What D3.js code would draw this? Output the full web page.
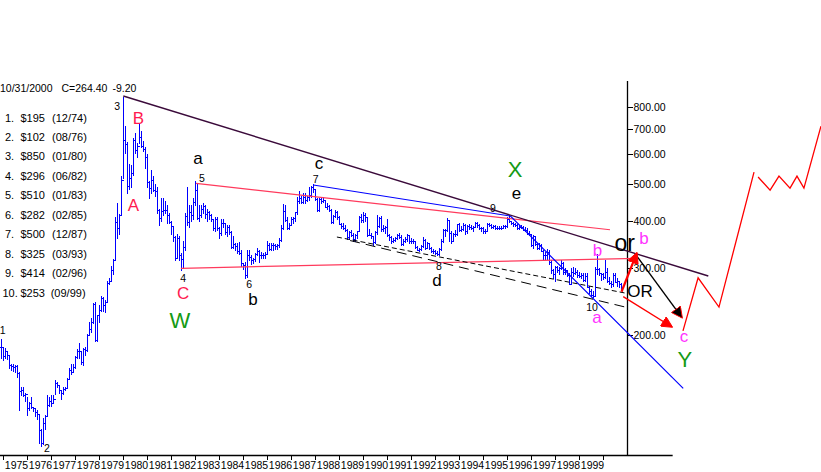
<!DOCTYPE html>
<html>
<head>
<meta charset="utf-8">
<script src="https://cdn.jsdelivr.net/npm/d3@7"></script>
<style>
body { margin: 0; background: #fff; }
svg { display: block; font-family: "Liberation Sans", Arial, sans-serif; }
</style>
</head>
<body>
<div class="contents"></div>
<script>
// monthly gold bars, first bar = Dec 1974
var firstMonth = 1974 * 12 + 11;

var highs = [195,
  186,185,182,177,168,168,167,167,160,146,146,141,
  137,133,137,129,128,127,124,113,121,123,139,137,
  139,139,152,150,148,143,146,146,154,164,168,168,
  176,184,190,182,185,186,201,216,222,243,244,226,
  240,254,252,248,278,283,305,318,410,447,417,524,
  850,710,645,565,560,660,680,640,725,690,650,625,
  600,510,545,525,500,490,430,460,460,450,440,420,
  400,385,365,370,365,330,355,420,490,440,440,460,
  510,500,440,440,445,440,430,425,418,405,410,410,
  385,405,405,395,390,390,375,365,350,350,352,335,
  310,312,335,335,325,320,330,340,335,332,330,332,
  355,350,350,350,347,347,360,390,442,440,410,395,
  410,410,422,462,480,465,475,475,465,490,495,500,
  485,460,460,460,462,455,445,440,430,415,428,425,
  412,395,395,390,380,375,378,372,370,377,412,418,
  423,420,410,380,372,365,375,415,410,412,390,388,
  405,370,365,360,362,370,372,366,358,362,370,368,
  360,358,355,343,340,345,362,358,352,350,342,338,
  335,334,340,358,380,380,407,400,375,372,378,392,
  395,388,394,392,390,393,390,388,398,397,392,386,
  385,380,395,396,393,390,390,388,387,387,390,390,
  410,415,400,398,395,392,390,390,388,385,384,375,
  370,366,365,350,350,348,335,332,337,335,315,298,
  305,305,303,315,312,300,297,291,300,302,300,297,
  293,291,291,291,291,270,264,262,302,327,300,292,
  292,315,300,285,278,292,292,282,278,275];

var lows = [174,
  172,174,173,164,162,161,160,155,127,139,138,134,
  123,127,128,126,122,120,104,102,103,113,122,130,
  130,132,140,146,141,136,140,143,145,154,158,160,
  164,174,174,168,167,177,182,200,204,215,193,193,
  217,232,231,230,245,272,278,290,315,360,370,416,
  520,605,474,485,490,530,605,590,640,625,610,550,
  490,460,475,480,465,420,390,400,415,420,395,395,
  370,355,315,320,315,296,300,335,390,385,400,405,
  440,405,400,410,420,408,400,405,400,378,375,378,
  360,368,385,370,365,370,340,340,335,330,328,305,
  298,282,285,315,308,310,313,325,312,320,320,320,
  327,335,335,335,338,337,342,355,380,400,380,380,
  390,395,400,418,445,445,445,445,450,455,463,478,
  455,425,425,445,448,435,430,425,395,395,410,405,
  392,382,380,377,358,358,365,355,355,360,375,398,
  398,400,365,366,360,345,350,370,385,375,375,372,
  365,356,350,352,354,358,360,345,345,352,355,350,
  350,350,340,336,333,336,342,338,340,338,332,330,
  328,326,326,335,352,365,375,355,350,355,365,368,
  375,375,378,370,372,380,380,377,385,385,380,375,
  372,372,375,387,382,382,380,380,381,381,382,383,
  385,398,392,388,387,380,380,382,378,377,370,366,
  343,340,346,337,338,334,318,318,318,308,292,283,
  278,293,289,298,290,289,287,272,273,287,290,285,
  285,283,278,278,268,258,253,252,253,290,288,279,
  281,282,276,272,268,270,276,270,268,263];

var closes = [186,
  176,181,177,167,166,165,166,159,142,143,139,140,
  128,132,129,128,125,124,112,104,117,122,131,134,
  132,136,149,148,143,141,144,145,153,162,160,165,
  175,182,181,170,184,183,200,208,217,242,194,226,
  233,251,240,245,275,278,296,315,397,382,415,512,
  653,637,494,518,535,653,614,631,666,629,619,590,
  506,489,513,482,479,426,406,425,428,427,414,397,
  387,362,320,361,325,317,342,411,397,423,414,448,
  481,408,414,429,437,416,422,414,405,382,405,382,
  371,394,394,373,385,374,342,348,343,333,329,309,
  306,288,325,321,316,317,327,333,326,325,325,327,
  346,338,345,345,343,345,357,384,424,402,384,391,
  405,406,421,452,460,448,463,453,461,467,492,484,
  458,426,456,450,455,436,437,428,397,412,423,410,
  393,388,384,378,362,374,368,359,367,376,410,401,
  415,410,368,368,364,352,374,387,408,380,384,386,
  367,363,355,357,361,368,363,348,355,358,366,353,
  354,353,341,336,337,343,357,340,349,339,334,333,
  330,327,337,354,378,378,401,371,355,369,370,392,
  378,381,391,376,387,386,384,385,394,389,384,383,
  375,376,392,389,385,387,383,383,383,383,387,387,
  405,400,396,392,390,382,385,386,379,379,371,369,
  345,364,348,340,345,334,326,325,332,311,296,290,
  302,297,301,310,293,296,288,273,294,292,294,288,
  287,288,280,286,268,261,255,254,299,299,292,290,
  284,293,278,274,273,288,276,277,273,264];

var yearTicks = d3.range(1975, 2001);
var priceTicks = [200, 300, 400, 500, 600, 700, 800];
var headerText = ["10/31/2000", "C=264.40", "-9.20"];

// wave pivots list (top left)
var waveNum = ["1.", "2.", "3.", "4.", "5.", "6.", "7.", "8.", "9.", "10."];
var wavePrice = [195, 102, 850, 296, 510, 282, 500, 325, 414, 253];
var waveDate = ["12/74", "08/76", "01/80", "06/82", "01/83", "02/85", "12/87", "03/93", "02/96", "09/99"];

// small pivot numbers on the chart
var pivotYear = [1974.97, 1976.82, 1979.74, 1982.49, 1983.28, 1985.24, 1988.02, 1993.15, 1995.40, 1999.53];
var pivotPrice = [206, 100.7, 803, 282.7, 518.8, 272.6, 514, 304, 432.4, 237];

// wave letters
var letterText = ["A", "B", "C", "W", "a", "b", "c", "d", "e", "X", "b", "a", "or", "b", "OR", "c", "Y"];
var letterKind = ["red", "red", "red", "green", "black", "black", "black", "black", "black", "green",
                  "magenta", "magenta", "big", "magenta", "mid", "magenta", "green"];
var letterYear = [1980.42, 1980.63, 1982.49, 1982.36, 1983.11, 1985.40, 1988.15, 1993.07, 1996.38, 1996.32,
                  1999.76, 1999.74, 2000.89, 2001.70, 2001.53, 2003.36, 2003.40];
var letterPrice = [440.4, 746.8, 258.1, 219.1, 578.8, 248.9, 562, 280, 469.4, 548,
                   335, 221, 345.4, 360.4, 261.2, 196.4, 172.9];

// trend lines, [year, price]
var upperTrend = [[1980.0, 853.6], [2004.375, 286.2]];
var pinkUpper = [[1983.03, 502.4], [2000.28, 378.9]];
var pinkLower = [[1982.40, 299.9], [2001.40, 318.6]];
var blueTrend = [[1987.92, 497.2], [1996.13, 411.8], [2003.33, 144.7]];
var dashShort = [[1988.90, 362.6], [2000.90, 258.1]];
var dashLong = [[1989.45, 354.9], [2000.90, 237.1]];

// arrows
var arrowUp = [[2000.76, 260.1], [2001.39, 328.4]];
var arrowBlack = [[2001.36, 325.3], [2003.27, 222.7]];
var arrowDown = [[2000.83, 252.4], [2002.85, 210.3]];

// projected path
var projA = [[2003.32, 205], [2003.95, 283], [2004.82, 237], [2006.28, 538]];
var projB = [[2006.45, 522], [2006.95, 482], [2007.32, 525], [2007.78, 488],
             [2008.07, 525], [2008.36, 488], [2009.07, 711]];

var width = 821, height = 472;

var svg = d3.select(".contents").append("svg")
    .attr("width", width)
    .attr("height", height);

var x = d3.scaleLinear().domain([1975, 2000]).range([3.3, 603.3]);
var y = d3.scaleLog().domain([200, 800]).range([335, 106.7]);
var axisX = 627.5, baseY = 455;

var line = d3.line()
    .x(function(d) { return x(d[0]); })
    .y(function(d) { return y(d[1]); });

function snap(v) { return Math.round(v) + 0.5; }

// axes
var xAxis = d3.axisBottom(x)
    .tickValues(yearTicks)
    .tickSize(5)
    .tickSizeOuter(0)
    .tickFormat(function(d) { return d < 2000 ? d : ""; });

var gx = svg.append("g")
    .attr("class", "x axis")
    .attr("transform", "translate(0," + baseY + ")")
    .call(xAxis);
gx.select(".domain").remove();
gx.selectAll("line").attr("stroke", "#000").attr("shape-rendering", "crispEdges");
gx.selectAll("text")
    .attr("x", 1)
    .attr("y", 14)
    .attr("dy", 0)
    .style("text-anchor", "start")
    .style("font-size", "10.5px")
    .style("font-family", "Liberation Sans, Arial, sans-serif")
    .attr("fill", "#000");

svg.append("line")
    .attr("x1", 0).attr("x2", x(2002.89))
    .attr("y1", baseY + 0.5).attr("y2", baseY + 0.5)
    .attr("stroke", "#000").attr("stroke-width", 1.3);

var yAxis = d3.axisRight(y)
    .tickValues(priceTicks)
    .tickSize(5)
    .tickPadding(1)
    .tickFormat(d3.format(".2f"));

var gy = svg.append("g")
    .attr("class", "y axis")
    .attr("transform", "translate(" + axisX + ",0)")
    .call(yAxis);
gy.select(".domain").remove();
gy.selectAll("line").attr("stroke", "#000").attr("shape-rendering", "crispEdges");
gy.selectAll("text")
    .style("font-size", "10.5px")
    .style("font-family", "Liberation Sans, Arial, sans-serif")
    .attr("fill", "#000");

svg.append("line")
    .attr("x1", axisX).attr("x2", axisX)
    .attr("y1", 81).attr("y2", baseY)
    .attr("stroke", "#000").attr("stroke-width", 1.3);

// header
var header = svg.append("text")
    .attr("y", 91.5)
    .style("font-size", "10.5px");
header.selectAll("tspan")
    .data(headerText)
    .enter().append("tspan")
    .attr("x", function(d, i) { return [0, 61.5, 112.5][i]; })
    .text(function(d) { return d; });

// pivot list
var list = svg.append("g").attr("class", "legend").style("font-size", "11px");
waveNum.forEach(function(n, i) {
    var by = 121.5 + i * 19.45;
    list.append("text").attr("x", i < 9 ? 5 : 2.5).attr("y", by).text(n);
    list.append("text").attr("x", 20.5).attr("y", by).text("$" + wavePrice[i]);
    list.append("text").attr("x", i < 9 ? 52 : 50.7).attr("y", by).text("(" + waveDate[i] + ")");
});

// price bars
var bars = svg.append("g")
    .attr("class", "bars")
    .attr("stroke", "#0000ff")
    .attr("stroke-width", 1.2)
    .attr("shape-rendering", "crispEdges");

highs.forEach(function(h, i) {
    var t = (firstMonth + i) / 12;
    var bx = snap(x(t));
    var open = i > 0 ? closes[i - 1] : closes[i];
    bars.append("line")
        .attr("x1", bx).attr("x2", bx)
        .attr("y1", Math.round(y(h))).attr("y2", Math.round(y(lows[i])) + 1);
    bars.append("line")
        .attr("x1", bx - 1.5).attr("x2", bx)
        .attr("y1", snap(y(open))).attr("y2", snap(y(open)));
    bars.append("line")
        .attr("x1", bx).attr("x2", bx + 1.5)
        .attr("y1", snap(y(closes[i]))).attr("y2", snap(y(closes[i])));
});

// trend lines
var trends = svg.append("g").attr("class", "trends").attr("fill", "none");
trends.append("path").datum(pinkUpper).attr("d", line)
    .attr("stroke", "#ff3a5c").attr("stroke-width", 1.2);
trends.append("path").datum(pinkLower).attr("d", line)
    .attr("stroke", "#ff3a5c").attr("stroke-width", 1.2);
trends.append("path").datum(blueTrend).attr("d", line)
    .attr("stroke", "#0000ff").attr("stroke-width", 1.2);
trends.append("path").datum(dashShort).attr("d", line)
    .attr("stroke", "#000").attr("stroke-width", 1).attr("stroke-dasharray", "5,3");
trends.append("path").datum(dashLong).attr("d", line)
    .attr("stroke", "#000").attr("stroke-width", 1).attr("stroke-dasharray", "10,6");
trends.append("path").datum(upperTrend).attr("d", line)
    .attr("stroke", "#3a0a3a").attr("stroke-width", 1.4);

// arrow heads
var defs = svg.append("defs");
function addHead(id, fill, stroke) {
    defs.append("marker")
        .attr("id", id)
        .attr("viewBox", "0 0 10 10")
        .attr("refX", 9).attr("refY", 5)
        .attr("markerUnits", "userSpaceOnUse")
        .attr("markerWidth", 12).attr("markerHeight", 11)
        .attr("orient", "auto")
        .append("path")
        .attr("d", "M0,0L10,5L0,10Z")
        .attr("fill", fill)
        .attr("stroke", stroke)
        .attr("stroke-width", 0.8);
}
addHead("headRed", "#ff0000", "#ff0000");
addHead("headBlack", "#000", "#ff0000");

var arrows = svg.append("g").attr("class", "arrows").attr("fill", "none");
arrows.append("path").datum(arrowBlack).attr("d", line)
    .attr("stroke", "#000").attr("stroke-width", 1.4)
    .attr("marker-end", "url(#headBlack)");
arrows.append("path").datum(arrowUp).attr("d", line)
    .attr("stroke", "#ff0000").attr("stroke-width", 2.2)
    .attr("marker-end", "url(#headRed)");
arrows.append("path").datum(arrowDown).attr("d", line)
    .attr("stroke", "#ff0000").attr("stroke-width", 1.4)
    .attr("marker-end", "url(#headRed)");

// projected path
[projA, projB].forEach(function(seg) {
    svg.append("path").datum(seg).attr("d", line)
        .attr("fill", "none")
        .attr("stroke", "#ff0000")
        .attr("stroke-width", 1.3);
});

// pivot numbers
svg.append("g").attr("class", "pivots")
    .selectAll("text")
    .data(pivotYear)
    .enter().append("text")
    .attr("x", function(d) { return x(d); })
    .attr("y", function(d, i) { return y(pivotPrice[i]); })
    .attr("dy", "0.36em")
    .style("text-anchor", "middle")
    .style("font-size", "10.5px")
    .text(function(d, i) { return String(i + 1); });

// wave letters
var kindStyle = {
    red: { fill: "#ff1a4f", size: 17 },
    green: { fill: "#149a14", size: 22 },
    black: { fill: "#000", size: 17 },
    magenta: { fill: "#ff33ff", size: 17 },
    big: { fill: "#000", size: 23 },
    mid: { fill: "#000", size: 17 }
};

svg.append("g").attr("class", "letters")
    .selectAll("text")
    .data(letterText)
    .enter().append("text")
    .attr("x", function(d, i) { return x(letterYear[i]); })
    .attr("y", function(d, i) { return y(letterPrice[i]); })
    .attr("dy", function(d) { return /^[aceor]+$/.test(d) ? "0.26em" : "0.36em"; })
    .style("text-anchor", "middle")
    .style("font-size", function(d, i) { return kindStyle[letterKind[i]].size + "px"; })
    .attr("fill", function(d, i) { return kindStyle[letterKind[i]].fill; })
    .text(function(d) { return d; });
</script>
</body>
</html>
